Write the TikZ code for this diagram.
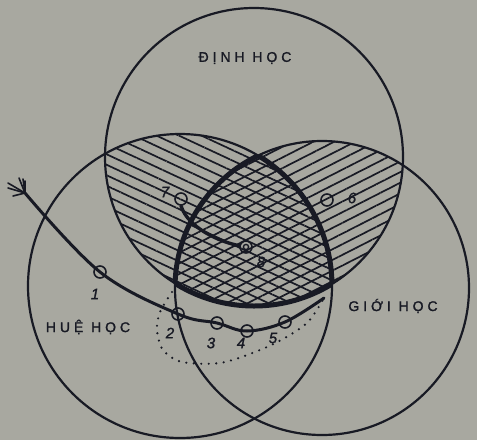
\documentclass[tikz,border=0pt]{standalone}
\usepackage{fontspec}
\setmainfont{Liberation Sans}
\usepackage{xcolor}
\usetikzlibrary{patterns.meta}

\definecolor{paper}{RGB}{168,168,160}
\definecolor{ink}{RGB}{24,26,36}

\tikzset{
  ring/.style={ink, line width=2.2pt},
  bold/.style={ink, line width=5pt},
  trail/.style={ink, line width=3pt, line cap=round},
  dots/.style={ink, line width=2.4pt, line cap=round, dash pattern=on 0pt off 7.5pt},
  feather/.style={ink, line width=1.6pt, line cap=round},
  stop/.style={circle, draw=ink, line width=1.6pt, minimum size=12pt, inner sep=0pt},
  num/.style={ink, font=\itshape\fontsize{15}{15}\selectfont\addfontfeature{FakeBold=1.5}},
  title/.style={ink, font=\fontsize{14}{14}\selectfont\addfontfeature{LetterSpace=28,FakeBold=1.5}},
}

\begin{document}
\begin{tikzpicture}[x=1pt,y=-1pt]
    \useasboundingbox (0,0) rectangle (477,440);
    \fill[paper] (0,0) rectangle (477,440);

    % centres of the three circles
    \coordinate (cD) at (254,157);
    \coordinate (cH) at (180,286);
    \coordinate (cG) at (322,288);

    % hatching: dinh & hue
    \begin{scope}
        \clip (cD) circle (149pt);
        \clip (cH) circle (152pt);
        \fill[pattern={Lines[angle=-25,distance=9.5pt,line width=1.7pt]}, pattern color=ink] (0,0) rectangle (477,440);
    \end{scope}
    % hatching: dinh & gioi
    \begin{scope}
        \clip (cD) circle (149pt);
        \clip (cG) circle (147pt);
        \fill[pattern={Lines[angle=27,distance=9.5pt,line width=1.7pt]}, pattern color=ink] (0,0) rectangle (477,440);
    \end{scope}

    % the three circles
    \draw[ring] (cD) circle (149pt);
    \draw[ring] (cH) circle (152pt);
    \draw[ring] (cG) circle (147pt);

    % bold outline of the common part
    \begin{scope}
        \clip (cH) circle (152pt);
        \clip (cG) circle (147pt);
        \draw[bold] (cD) circle (149pt);
    \end{scope}
    \begin{scope}
        \clip (cD) circle (149pt);
        \clip (cG) circle (147pt);
        \draw[bold] (cH) circle (152pt);
    \end{scope}
    \begin{scope}
        \clip (cD) circle (149pt);
        \clip (cH) circle (152pt);
        \draw[bold] (cG) circle (147pt);
    \end{scope}

    \node[title] (dinh) at (245,58) {ĐỊNH HỌC};
    \node[title] (hue) at (88,327) {HUỆ HỌC};
    \node[title] (gioi) at (393,306) {GIỚI HỌC};

    % stages
    \foreach \n/\x/\y in {1/100/272, 2/178/314, 3/217/323, 4/247/331, 5/285/322, 6/327/200, 7/181/199} {
        \node[stop] (m\n) at (\x,\y) {};
    }
    \node[stop] (m8) at (246,247) {};
    \draw[ink, line width=1.4pt] (m8.center) circle (2.6pt);

    \foreach \n/\x/\y in {1/95/294, 2/170/333, 3/211/343, 4/241/343, 5/273/338, 6/352/198, 7/165/192, 8/261/262} {
        \node[num] (n\n) at (\x,\y) {\n};
    }

    % the way in
    \coordinate (tail) at (25,193);
    \coordinate (meet) at (324,298);
    \coordinate (dip) at (172,292);
    \draw[trail] plot[smooth, tension=0.6] coordinates {(tail) (m1.center) (m2.center) (m3.center) (m4.center) (m5.center) (meet)};
    \foreach \dx/\dy in {-6/-15, -2/-14, 0/-12, -17/-10, -17/-5, -12/3} {
        \draw[feather] (tail) -- ++(\dx,\dy);
    }
    \draw[dots] plot[smooth] coordinates {(dip) (160,312) (157,330) (163,350) (182,362) (220,363) (255,352) (283,339) (308,322) (meet)};

    % into the centre
    \draw[trail, line width=3.4pt] (m7.south) .. controls (188,228) and (220,242) .. (m8);
\end{tikzpicture}
\end{document}
